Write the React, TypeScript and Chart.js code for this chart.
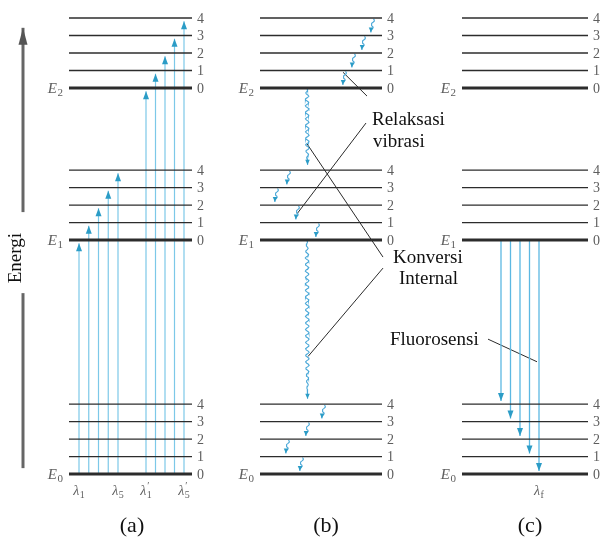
import { useEffect, useRef } from "react";
import { Chart, registerables } from "chart.js";

Chart.register(...registerables);

// ---- Diagram data ------------------------------------------------------
// Electronic states; energies in units of one vibrational quantum above E0 (v = 0)
const stateSubscripts = ["0", "1", "2"];
const stateEnergies = [0, 13.37, 22.06];
const vibrationalLevels = [0, 1, 2, 3, 4];
const vibrationalQuantum = 1;

// (a) Absorption from E0 (v = 0) into each vibrational level of E1 and E2
const absorptionToE1 = [0, 1, 2, 3, 4];
const absorptionToE2 = [0, 1, 2, 3, 4];
const absorptionE1Subs = ["1", "", "", "", "5"]; // λ subscripts
const absorptionE2Subs = ["1", "", "", "", "5"]; // λ′ subscripts

// (b) Vibrational relaxation steps inside each state: [state, from v, to v]
const relaxationSteps = [
  [2, 4, 3], [2, 3, 2], [2, 2, 1], [2, 1, 0],
  [1, 4, 3], [1, 3, 2], [1, 2, 1], [1, 1, 0],
  [0, 4, 3], [0, 3, 2], [0, 2, 1], [0, 1, 0],
];
// Internal conversion: [from state, from v, to state, to v]
const internalConversions = [
  [2, 0, 1, 4],
  [1, 0, 0, 4],
];

// (c) Fluorescence from E1 (v = 0) down to the vibrational levels of E0
const fluorescenceToE0 = [4, 3, 2, 1, 0];
const fluorescenceSubs = ["", "", "", "", "f"];

const panelTitles = ["(a)", "(b)", "(c)"];
const axisTitle = "Energi";
const relaxationNote = ["Relaksasi", "vibrasi"];
const conversionNote = ["Konversi", "Internal"];
const fluorescenceNote = "Fluorosensi";

// ---- Layout & style ------------------------------------------------------
const W = 603;
const H = 546;
const Y_MIN = -4.11;
const Y_MAX = 27.09;
const PX_PER_UNIT = H / (Y_MAX - Y_MIN);
const SERIF = "'Liberation Serif', 'Times New Roman', serif";

const panelSpan = [
  [69, 192],
  [260, 382],
  [462, 588],
];
const panelTitleX = [132, 326, 530];
const absorptionE1X = 79;
const absorptionE1Step = 9.75;
const absorptionE2X = 146;
const absorptionE2Step = 9.5;
const fluorescenceX = 501;
const fluorescenceStep = 9.5;
const relaxationOffsets = [112, 103, 93, 84, 28, 16, 37, 57, 63, 47, 27, 41];
const conversionOffset = 47;
const tipGap = 0.18;

const LEVEL_COLOR = "#2c2c2c";
const GRAY_TEXT = "#5e5e5e";
const ARROW_LINE = "#7cc8e8";
const ARROW_HEAD = "#2b9cc6";
const WAVY = "#4aa8d8";
const LEADER = "#2a2a2a";

const energyOf = (state: number, v: number) =>
  stateEnergies[state] + v * vibrationalQuantum;

// wavy path between two points (x in diagram units, y in energy units)
function wavyPath(x0: number, e0: number, x1: number, e1: number, amp: number, period: number) {
  const lenPx = Math.abs(e1 - e0) * PX_PER_UNIT;
  const n = Math.max(8, Math.ceil(lenPx / 1.2));
  const pts: { x: number; y: number }[] = [];
  for (let k = 0; k <= n; k++) {
    const t = k / n;
    const taper = Math.min(1, (1 - t) * 5, t * 8 + 0.2);
    pts.push({
      x: x0 + (x1 - x0) * t + amp * taper * Math.sin((2 * Math.PI * t * lenPx) / period),
      y: e0 + (e1 - e0) * t,
    });
  }
  return pts;
}

function lineDs(data: { x: number; y: number }[], color: string, width: number, extra: any = {}) {
  return {
    data,
    showLine: true,
    borderColor: color,
    backgroundColor: color,
    borderWidth: width,
    pointRadius: 0,
    tension: 0,
    ...extra,
  };
}

function buildDatasets() {
  const ds: any[] = [];

  // vibrational levels in all three panels (drawn on top)
  panelSpan.forEach(([x0, x1]) => {
    stateEnergies.forEach((_, s) => {
      vibrationalLevels.forEach((v) => {
        const e = energyOf(s, v);
        ds.push(lineDs([{ x: x0, y: e }, { x: x1, y: e }], LEVEL_COLOR, v === 0 ? 3 : 1.4));
      });
    });
  });

  // (a) absorption
  absorptionToE1.forEach((v, i) => {
    const x = absorptionE1X + i * absorptionE1Step;
    ds.push(
      lineDs([{ x, y: energyOf(0, 0) }, { x, y: energyOf(1, v) - tipGap }], ARROW_LINE, 1.2, {
        head: { dir: -1, len: 8, width: 6, color: ARROW_HEAD },
      })
    );
  });
  absorptionToE2.forEach((v, i) => {
    const x = absorptionE2X + i * absorptionE2Step;
    ds.push(
      lineDs([{ x, y: energyOf(0, 0) }, { x, y: energyOf(2, v) - tipGap }], ARROW_LINE, 1.2, {
        head: { dir: -1, len: 8, width: 6, color: ARROW_HEAD },
      })
    );
  });

  // (b) vibrational relaxation
  relaxationSteps.forEach(([s, from, to], i) => {
    const x = panelSpan[1][0] + relaxationOffsets[i];
    ds.push(
      lineDs(
        wavyPath(x + 1.5, energyOf(s, from) - 0.05, x - 1, energyOf(s, to) + tipGap, 1.3, 7),
        WAVY,
        1.1,
        { head: { dir: 1, len: 5, width: 4.5, color: ARROW_HEAD } }
      )
    );
  });
  // (b) internal conversion
  internalConversions.forEach(([s0, v0, s1, v1]) => {
    const x = panelSpan[1][0] + conversionOffset;
    ds.push(
      lineDs(wavyPath(x, energyOf(s0, v0), x + 0.5, energyOf(s1, v1) + 0.3, 1.8, 6.5), WAVY, 1.1, {
        head: { dir: 1, len: 5, width: 4.5, color: ARROW_HEAD },
      })
    );
  });

  // (c) fluorescence
  fluorescenceToE0.forEach((v, i) => {
    const x = fluorescenceX + i * fluorescenceStep;
    ds.push(
      lineDs([{ x, y: energyOf(1, 0) }, { x, y: energyOf(0, v) + tipGap }], "#5cb8e2", 1.3, {
        head: { dir: 1, len: 8, width: 6, color: ARROW_HEAD },
      })
    );
  });

  // energy axis (split around its title)
  ds.push(lineDs([{ x: 23, y: 0.34 }, { x: 23, y: 10.34 }], "#666", 3));
  ds.push(
    lineDs([{ x: 23, y: 14.97 }, { x: 23, y: 25.5 }], "#666", 3, {
      head: { dir: -1, len: 17, width: 9, color: "#555" },
    })
  );

  // leader lines for the notes in (b)
  const icX = panelSpan[1][0] + conversionOffset;
  const along = (k: number, f: number) => {
    const [s0, v0, s1, v1] = internalConversions[k];
    const a = energyOf(s0, v0);
    const b = energyOf(s1, v1);
    return a + (b - a) * f;
  };
  const relaxTop = relaxationSteps[3];
  const relaxLow = relaxationSteps[6];
  ds.push(
    lineDs(
      [
        { x: panelSpan[1][0] + relaxationOffsets[3] - 1, y: energyOf(relaxTop[0], relaxTop[1]) - 0.1 },
        { x: 367, y: 21.6 },
      ],
      LEADER,
      1
    )
  );
  ds.push(
    lineDs(
      [
        { x: 366, y: 20.06 },
        { x: panelSpan[1][0] + relaxationOffsets[6], y: energyOf(relaxLow[0], relaxLow[2]) + 0.5 },
      ],
      LEADER,
      1
    )
  );
  ds.push(lineDs([{ x: icX, y: along(0, 0.68) }, { x: 383, y: 12.4 }], LEADER, 1));
  ds.push(lineDs([{ x: 383, y: 11.77 }, { x: icX + 1, y: along(1, 0.71) }], LEADER, 1));
  const lastF = fluorescenceToE0.length - 1;
  ds.push(
    lineDs(
      [
        { x: 488, y: 7.71 },
        {
          x: fluorescenceX + lastF * fluorescenceStep - 2,
          y: energyOf(1, 0) + (energyOf(0, fluorescenceToE0[lastF]) - energyOf(1, 0)) * 0.52,
        },
      ],
      LEADER,
      1
    )
  );

  return ds;
}

// italic symbol with an upright subscript and optional prime
function symbolLabel(
  ctx: CanvasRenderingContext2D,
  x: number,
  y: number,
  base: string,
  sub: string,
  prime: boolean,
  size: number,
  align: "left" | "center" | "right"
) {
  ctx.font = `italic ${size}px ${SERIF}`;
  const wb = ctx.measureText(base).width;
  const subSize = Math.round(size * 0.72);
  ctx.font = `${subSize}px ${SERIF}`;
  const ws = ctx.measureText(sub).width;
  const total = wb + ws + 0.5;
  const left = align === "center" ? x - total / 2 : align === "right" ? x - total : x;
  ctx.textAlign = "left";
  ctx.textBaseline = "alphabetic";
  ctx.font = `italic ${size}px ${SERIF}`;
  ctx.fillText(base, left, y);
  ctx.font = `${subSize}px ${SERIF}`;
  ctx.fillText(sub, left + wb + 0.5, y + size * 0.22);
  if (prime) ctx.fillText("′", left + wb + 1, y - size * 0.42);
}

const decorPlugin = {
  id: "diagramDecor",
  afterDatasetsDraw(chart: any) {
    const ctx: CanvasRenderingContext2D = chart.ctx;
    chart.data.datasets.forEach((ds: any, i: number) => {
      if (!ds.head) return;
      const pts = chart.getDatasetMeta(i).data;
      const tip = pts[pts.length - 1];
      const { dir, len, width, color } = ds.head;
      ctx.save();
      ctx.fillStyle = color;
      ctx.beginPath();
      ctx.moveTo(tip.x, tip.y);
      ctx.lineTo(tip.x - width / 2, tip.y - dir * len);
      ctx.lineTo(tip.x + width / 2, tip.y - dir * len);
      ctx.closePath();
      ctx.fill();
      ctx.restore();
    });
  },
  afterDraw(chart: any) {
    const ctx: CanvasRenderingContext2D = chart.ctx;
    const X = (v: number) => chart.scales.x.getPixelForValue(v);
    const Y = (e: number) => chart.scales.y.getPixelForValue(e);
    ctx.save();

    // level numbers and state names
    panelSpan.forEach(([x0, x1]) => {
      stateEnergies.forEach((_, s) => {
        vibrationalLevels.forEach((v) => {
          ctx.fillStyle = GRAY_TEXT;
          ctx.font = `14px ${SERIF}`;
          ctx.textAlign = "left";
          ctx.textBaseline = "middle";
          ctx.fillText(String(v), X(x1) + 5, Y(energyOf(s, v)) + 1);
        });
        ctx.fillStyle = GRAY_TEXT;
        symbolLabel(ctx, X(x0) - 6, Y(energyOf(s, 0)) + 5, "E", stateSubscripts[s], false, 15, "right");
      });
    });

    // wavelength labels
    const lamY = Y(-1.2);
    ctx.fillStyle = GRAY_TEXT;
    absorptionE1Subs.forEach((sub, i) => {
      if (sub) symbolLabel(ctx, X(absorptionE1X + i * absorptionE1Step), lamY, "λ", sub, false, 14, "center");
    });
    absorptionE2Subs.forEach((sub, i) => {
      if (sub) symbolLabel(ctx, X(absorptionE2X + i * absorptionE2Step), lamY, "λ", sub, true, 14, "center");
    });
    fluorescenceSubs.forEach((sub, i) => {
      if (sub) symbolLabel(ctx, X(fluorescenceX + i * fluorescenceStep), lamY, "λ", sub, false, 14, "center");
    });

    // notes
    ctx.fillStyle = "#111";
    ctx.font = `19px ${SERIF}`;
    ctx.textAlign = "left";
    ctx.textBaseline = "alphabetic";
    ctx.fillText(relaxationNote[0], X(372), Y(19.94));
    ctx.fillText(relaxationNote[1], X(373), Y(18.69));
    ctx.fillText(conversionNote[0], X(393), Y(12.06));
    ctx.fillText(conversionNote[1], X(399), Y(10.86));
    ctx.fillText(fluorescenceNote, X(390), Y(7.37));

    // panel titles
    ctx.font = `22px ${SERIF}`;
    ctx.textAlign = "center";
    ctx.textBaseline = "middle";
    panelTitleX.forEach((cx, i) => ctx.fillText(panelTitles[i], X(cx), Y(-3.0)));

    // axis title
    ctx.translate(X(16), Y(12.34));
    ctx.rotate(-Math.PI / 2);
    ctx.font = `19px ${SERIF}`;
    ctx.textAlign = "center";
    ctx.textBaseline = "middle";
    ctx.fillText(axisTitle, 0, 0);
    ctx.restore();
  },
};

export default function App() {
  const ref = useRef<HTMLCanvasElement>(null);

  useEffect(() => {
    if (!ref.current) return;
    const chart = new Chart(ref.current, {
      type: "scatter",
      data: { datasets: buildDatasets() },
      options: {
        responsive: false,
        devicePixelRatio: 1,
        animation: false,
        events: [],
        layout: { padding: 0 },
        plugins: { legend: { display: false }, tooltip: { enabled: false } },
        scales: {
          x: { type: "linear", display: false, min: 0, max: W },
          y: { type: "linear", display: false, min: Y_MIN, max: Y_MAX },
        },
      },
      plugins: [decorPlugin],
    } as any);
    return () => chart.destroy();
  }, []);

  return (
    <div style={{ position: "fixed", left: 0, top: 0, width: W, height: H, background: "#fff" }}>
      <canvas ref={ref} width={W} height={H} style={{ display: "block", width: W, height: H }} />
    </div>
  );
}
